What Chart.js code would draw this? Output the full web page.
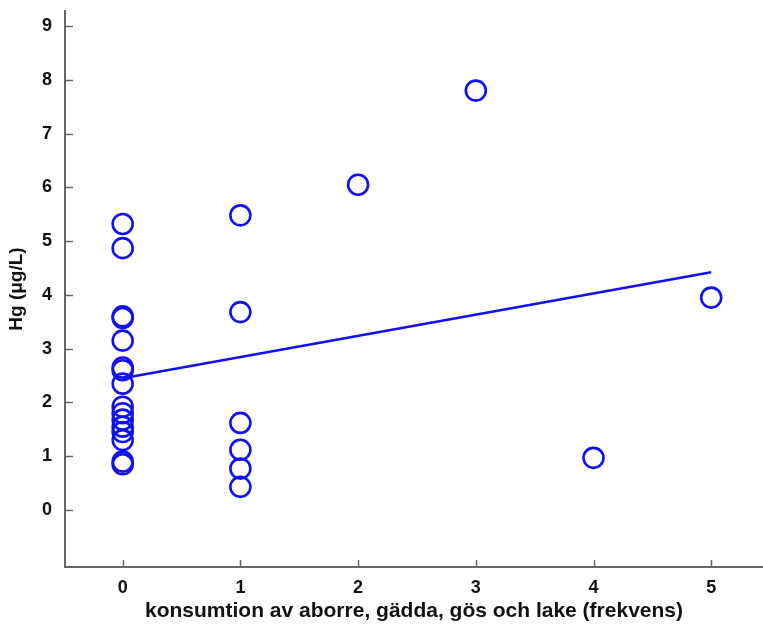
<!DOCTYPE html>
<html>
<head>
<meta charset="utf-8">
<script src="https://cdn.jsdelivr.net/npm/chart.js@4/dist/chart.umd.min.js"></script>
<style>
html,body{margin:0;padding:0;background:#fff;}
#wrap{width:763px;height:626px;}
</style>
</head>
<body>
<div id="wrap"><canvas id="c" width="763" height="626"></canvas></div>
<script>
// frequency of consumption (x) and Hg concentration (y)
const freq0 = [0,0,0,0,0,0,0,0,0,0,0,0,0,0,0,0];
const hg0 = [5.32,4.87,3.6,3.57,3.15,2.65,2.6,2.35,1.92,1.8,1.68,1.55,1.45,1.3,0.9,0.85];
const freq1 = [1,1,1,1,1,1];
const hg1 = [5.48,3.68,1.62,1.12,0.77,0.43];
const freqOther = [2,3,4,5];
const hgOther = [6.05,7.8,0.97,3.95];
// regression line endpoints
const lineX = [0,5];
const lineY = [2.45,4.42];
const xTicks = [0,1,2,3,4,5];
const yTicks = [0,1,2,3,4,5,6,7,8,9];
const xTitle = 'konsumtion av aborre, gädda, gös och lake (frekvens)';
const yTitle = 'Hg (\u03bcg/L)';

const allX = freq0.concat(freq1, freqOther);
const allY = hg0.concat(hg1, hgOther);
const pts = allX.map((x,i)=>({x:x,y:allY[i]}));
const linePts = lineX.map((x,i)=>({x:x,y:lineY[i]}));

const BLUE = '#1010f0';
const AXIS = '#666666';
const TXT = '#111111';
const FONT = '"Liberation Sans", Arial, sans-serif';

const innerTicks = {
  id:'innerTicks',
  afterDatasetsDraw(chart){
    const ctx = chart.ctx, ca = chart.chartArea;
    const xs = chart.scales.x, ys = chart.scales.y;
    ctx.save();
    ctx.strokeStyle = AXIS; ctx.lineWidth = 1.5;
    xs.ticks.forEach(t=>{
      const px = Math.round(xs.getPixelForValue(t.value))+0.5;
      ctx.beginPath(); ctx.moveTo(px, ca.bottom); ctx.lineTo(px, ca.bottom-7); ctx.stroke();
    });
    ys.ticks.forEach(t=>{
      const py = Math.round(ys.getPixelForValue(t.value))+0.5;
      ctx.beginPath(); ctx.moveTo(ca.left, py); ctx.lineTo(ca.left+8, py); ctx.stroke();
    });
    ctx.restore();
  }
};

new Chart(document.getElementById('c'), {
  type:'scatter',
  data:{
    datasets:[
      {
        data: pts,
        showLine:false,
        pointRadius:10,
        pointHoverRadius:10,
        pointBorderWidth:2.6,
        pointBorderColor:BLUE,
        pointBackgroundColor:'rgba(0,0,0,0)'
      },
      {
        type:'line',
        data: linePts,
        borderColor:BLUE,
        borderWidth:2.5,
        pointRadius:0,
        fill:false,
        tension:0
      }
    ]
  },
  plugins:[innerTicks],
  options:{
    responsive:false,
    animation:false,
    events:[],
    layout:{autoPadding:false, padding:{top:11,right:0,left:0,bottom:0}},
    plugins:{legend:{display:false},tooltip:{enabled:false}},
    scales:{
      x:{
        type:'linear',
        min:-0.49, max:5.44,
        afterBuildTicks: s=>{ s.ticks = xTicks.map(v=>({value:v})); },
        afterFit: s=>{ s.height = 59; s.paddingLeft = 0; s.paddingRight = 0; },
        grid:{display:false, drawTicks:false},
        border:{display:true,color:AXIS,width:2},
        ticks:{color:TXT,font:{family:FONT,size:18,weight:'bold'},padding:10},
        title:{display:true,text:xTitle,color:TXT,font:{family:FONT,size:21,weight:'bold'},padding:{top:0,bottom:2}}
      },
      y:{
        type:'linear',
        min:-1.06, max:9.28,
        afterBuildTicks: s=>{ s.ticks = yTicks.map(v=>({value:v})); },
        afterFit: s=>{ s.width = 65; s.paddingTop = 0; s.paddingBottom = 0; },
        grid:{display:false, drawTicks:false},
        border:{display:true,color:AXIS,width:2},
        ticks:{color:TXT,font:{family:FONT,size:18,weight:'bold'},padding:13},
        title:{display:true,text:yTitle,color:TXT,font:{family:FONT,size:19,weight:'bold'},padding:{top:5,bottom:0}}
      }
    }
  }
});
</script>
</body>
</html>
